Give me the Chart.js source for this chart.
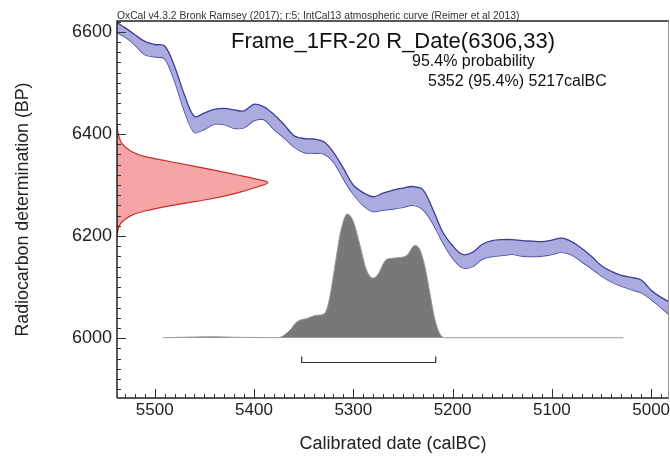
<!DOCTYPE html>
<html>
<head>
<meta charset="utf-8">
<script src="https://cdn.jsdelivr.net/npm/chart.js@4.4.1/dist/chart.umd.min.js"></script>
<style>
  html, body { margin: 0; padding: 0; background: #fff; }
  #wrap { width: 670px; height: 459px; }
</style>
</head>
<body>
<div id="wrap"><canvas id="chart" width="670" height="459"></canvas></div>
<script>
// OxCal calibration plot - Frame_1FR-20

// calibration curve band (IntCal13)
const curveCal = [5538, 5530, 5520, 5510, 5500, 5490, 5480, 5470, 5460, 5450,
  5440, 5430, 5420, 5410, 5400, 5390, 5380, 5370, 5360, 5350,
  5340, 5330, 5320, 5310, 5300, 5290, 5280, 5270, 5260, 5250,
  5240, 5230, 5220, 5210, 5200, 5190, 5180, 5170, 5160, 5150,
  5140, 5130, 5120, 5110, 5100, 5090, 5080, 5070, 5060, 5050,
  5040, 5030, 5020, 5010, 5000, 4990, 4982];
const curveUpper = [6618, 6608, 6594, 6581, 6575, 6572, 6532, 6476, 6434, 6441,
  6448, 6450, 6447, 6445, 6458, 6453, 6438, 6419, 6397, 6391,
  6390, 6385, 6364, 6333, 6300, 6285, 6277, 6284, 6290, 6294,
  6297, 6291, 6253, 6208, 6181, 6164, 6168, 6184, 6191, 6193,
  6193, 6191, 6190, 6189, 6192, 6196, 6189, 6176, 6160, 6142,
  6131, 6123, 6119, 6114, 6094, 6080, 6071];
const curveLower = [6598, 6590, 6574, 6555, 6551, 6547, 6503, 6444, 6403, 6409,
  6419, 6418, 6411, 6412, 6426, 6428, 6409, 6393, 6375, 6364,
  6362, 6361, 6345, 6312, 6282, 6260, 6248, 6251, 6253, 6256,
  6260, 6252, 6225, 6188, 6157, 6138, 6140, 6155, 6160, 6162,
  6164, 6161, 6160, 6161, 6164, 6168, 6163, 6150, 6136, 6122,
  6110, 6102, 6095, 6089, 6076, 6060, 6046];

// radiocarbon measurement (red, on the BP axis)
const dateBP = [6420, 6405, 6396, 6382, 6366, 6356, 6343, 6330, 6319, 6312, 6305,
  6295, 6285, 6273, 6262, 6249, 6240, 6229, 6220, 6207, 6197];
const dateProb = [0, 0.005, 0.012, 0.03, 0.093, 0.182, 0.405, 0.627, 0.805, 0.915, 1,
  0.915, 0.805, 0.627, 0.405, 0.182, 0.093, 0.038, 0.015, 0.004, 0];

// calibrated distribution (grey, on the calBC axis)
const postCal = [5492, 5460, 5440, 5420, 5400, 5376, 5364, 5357, 5347, 5337,
  5329, 5324, 5318, 5313, 5306, 5300, 5293, 5287, 5280, 5275,
  5268, 5263, 5253, 5246, 5238, 5233, 5228, 5223, 5218, 5213,
  5208, 5028];
const postProb = [0, 0.006, 0.008, 0.004, 0.002, 0, 0.06, 0.128, 0.155, 0.181,
  0.195, 0.315, 0.608, 0.847, 1, 0.94, 0.74, 0.554, 0.482, 0.514,
  0.622, 0.64, 0.648, 0.666, 0.746, 0.714, 0.58, 0.367, 0.155, 0.034,
  0, 0];

// 95.4% range
const rangeFrom = 5352;
const rangeTo = 5217;
const rangePct = 95.4;
const sampleName = 'Frame_1FR-20';
const dateMean = 6306;
const dateErr = 33;

const xTicks = [5500, 5400, 5300, 5200, 5100, 5000];
const yTicks = [6000, 6200, 6400, 6600];

const FONT = "'Liberation Sans', Arial, sans-serif";
Chart.defaults.font.family = FONT;
Chart.defaults.color = '#222';

const pts = (xs, ys) => xs.map((x, i) => ({ x, y: ys[i] }));

const decorations = {
  id: 'decorations',
  afterDraw(chart) {
    const { ctx, chartArea: a, scales } = chart;
    ctx.save();

    // inside tick marks
    ctx.strokeStyle = '#333';
    ctx.lineWidth = 1;
    ctx.beginPath();
    for (let v = 5900; v <= 6620; v += 20) {
      const py = Math.round(scales.y.getPixelForValue(v)) + 0.5;
      if (py < a.top || py > a.bottom) continue;
      const len = v % 200 === 0 ? 9 : 4;
      ctx.moveTo(a.left, py);
      ctx.lineTo(a.left + len, py);
    }
    for (let v = 4990; v <= 5530; v += 10) {
      const px = Math.round(scales.x.getPixelForValue(v)) + 0.5;
      if (px < a.left || px > a.right) continue;
      const len = v % 100 === 0 ? 9 : 4;
      ctx.moveTo(px, a.bottom);
      ctx.lineTo(px, a.bottom - len);
    }
    ctx.stroke();

    // frame
    ctx.lineWidth = 1.5;
    ctx.strokeStyle = '#222';
    ctx.beginPath();
    ctx.moveTo(a.left, a.bottom);
    ctx.lineTo(a.left, a.top);
    ctx.lineTo(a.right, a.top);
    ctx.moveTo(a.left, a.bottom);
    ctx.lineTo(a.right, a.bottom);
    ctx.stroke();
    ctx.strokeStyle = '#999';
    ctx.lineWidth = 1;
    ctx.beginPath();
    ctx.moveTo(a.right - 0.5, a.top);
    ctx.lineTo(a.right - 0.5, a.bottom);
    ctx.stroke();

    // range bracket under the distribution
    const base = scales.y.getPixelForValue(6000);
    const x1 = scales.x.getPixelForValue(rangeFrom);
    const x2 = scales.x.getPixelForValue(rangeTo);
    const by = Math.round(base + 24) + 0.5;
    ctx.strokeStyle = '#333';
    ctx.lineWidth = 1.2;
    ctx.beginPath();
    ctx.moveTo(x1, by - 6);
    ctx.lineTo(x1, by);
    ctx.lineTo(x2, by);
    ctx.lineTo(x2, by - 6);
    ctx.stroke();

    // texts
    ctx.fillStyle = '#333';
    ctx.textBaseline = 'alphabetic';
    ctx.textAlign = 'left';
    ctx.font = '10.3px ' + FONT;
    ctx.fillText('OxCal v4.3.2 Bronk Ramsey (2017); r:5; IntCal13 atmospheric curve (Reimer et al 2013)', a.left, 19);

    ctx.fillStyle = '#111';
    ctx.textAlign = 'center';
    ctx.font = '22px ' + FONT;
    ctx.fillText(sampleName + ' R_Date(' + dateMean + ',' + dateErr + ')', (a.left + a.right) / 2, 48);

    ctx.textAlign = 'left';
    ctx.font = '16px ' + FONT;
    ctx.fillText(rangePct + '% probability', 412, 65.5);
    ctx.fillText(rangeFrom + ' (' + rangePct + '%) ' + rangeTo + 'calBC', 428, 86);
    ctx.restore();
  }
};

new Chart(document.getElementById('chart'), {
  type: 'line',
  data: {
    datasets: [
      {
        label: 'IntCal13 upper',
        data: pts(curveCal, curveUpper),
        borderColor: '#3c3c98',
        borderWidth: 1.3,
        backgroundColor: 'rgba(166, 166, 222, 0.95)',
        fill: '+1',
        pointRadius: 0,
        tension: 0.35
      },
      {
        label: 'IntCal13 lower',
        data: pts(curveCal, curveLower),
        borderColor: '#3c3c98',
        borderWidth: 1.3,
        fill: false,
        pointRadius: 0,
        tension: 0.35
      },
      {
        label: 'Posterior',
        data: pts(postCal, postProb),
        yAxisID: 'yp',
        borderColor: '#999',
        borderWidth: 1,
        backgroundColor: '#787878',
        fill: 'origin',
        pointRadius: 0,
        cubicInterpolationMode: 'monotone'
      },
      {
        label: 'R_Date',
        data: dateBP.map((b, i) => ({ x: dateProb[i], y: b })),
        indexAxis: 'y',
        xAxisID: 'xp',
        yAxisID: 'y',
        borderColor: '#d02a2a',
        borderWidth: 1.2,
        backgroundColor: 'rgba(244, 160, 160, 0.95)',
        fill: 'origin',
        pointRadius: 0,
        tension: 0.3
      }
    ]
  },
  options: {
    responsive: false,
    animation: false,
    devicePixelRatio: 1,
    layout: { padding: { top: 21, right: 1, left: 0, bottom: 0 } },
    plugins: { legend: { display: false }, tooltip: { enabled: false } },
    scales: {
      x: {
        type: 'linear',
        reverse: true,
        min: 4982,
        max: 5538,
        position: 'bottom',
        afterFit: (s) => { s.height = 61; s.paddingLeft = 0; s.paddingRight = 0; },
        afterBuildTicks: (s) => { s.ticks = xTicks.map(v => ({ value: v })); },
        ticks: { font: { size: 17 }, padding: 2, color: '#222', maxRotation: 0, callback: (v) => String(v) },
        grid: { display: false, drawTicks: false },
        border: { display: false },
        title: { display: true, text: 'Calibrated date (calBC)', font: { size: 18 }, color: '#222', padding: { top: 0, bottom: 4 } }
      },
      y: {
        type: 'linear',
        min: 5883,
        max: 6621,
        position: 'left',
        afterFit: (s) => { s.width = 117; s.paddingTop = 0; s.paddingBottom = 0; },
        afterBuildTicks: (s) => { s.ticks = yTicks.map(v => ({ value: v })); },
        ticks: { font: { size: 18 }, padding: 5, color: '#222', callback: (v) => String(v) },
        grid: { display: false, drawTicks: false },
        border: { display: false },
        title: { display: true, text: 'Radiocarbon determination (BP)', font: { size: 17.8 }, color: '#222', padding: { top: 12, bottom: 0 } }
      },
      xp: { type: 'linear', display: false, position: 'bottom', min: 0, max: 3.656 },
      yp: { type: 'linear', display: false, position: 'left', min: -0.487, max: 2.56 }
    }
  },
  plugins: [decorations]
});
</script>
</body>
</html>
